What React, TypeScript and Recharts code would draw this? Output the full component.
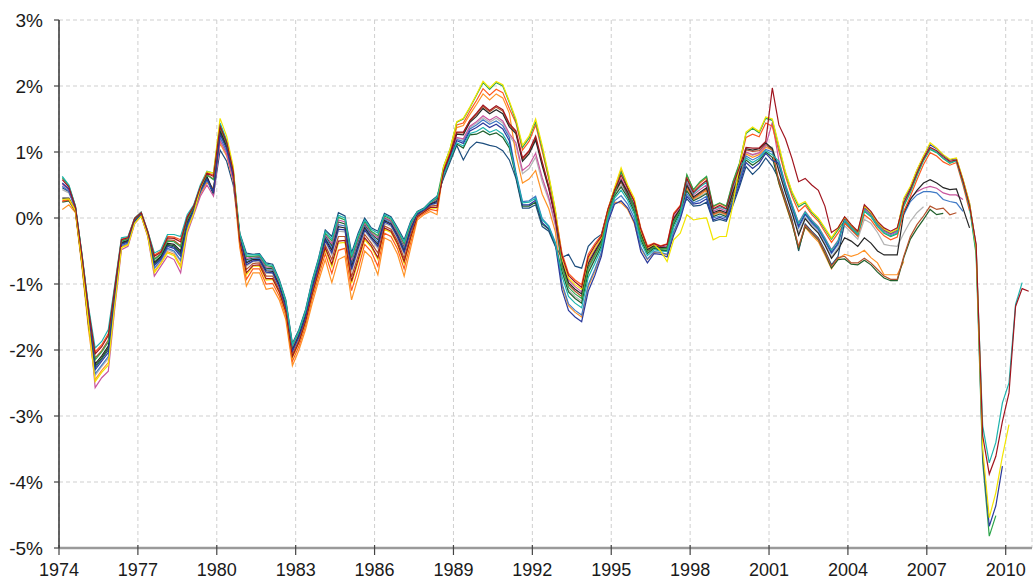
import React from 'react';
import { LineChart, Line, XAxis, YAxis, CartesianGrid } from 'recharts';

// Quarterly estimates, first value = 1974Q1 (plotted mid-quarter). Values in %.
const FIRST_QUARTER = 1974.125;
const yearTicks = [1974, 1977, 1980, 1983, 1986, 1989, 1992, 1995, 1998, 2001, 2004, 2007, 2010];
const pctTicks = [-5, -4, -3, -2, -1, 0, 1, 2, 3];

const darkred = [
  0.58, 0.47, 0.17, -0.57, -1.39,
  -2.06, -1.95, -1.78, -1.05, -0.33, -0.30, -0.01, 0.08, -0.21, -0.58, -0.52, -0.30, -0.31, -0.36, 0.01, 0.18, 0.47, 0.68, 0.63,
  1.39, 1.15, 0.71,
  -0.36, -0.83, -0.72, -0.71, -0.92, -0.92, -1.12, -1.42, -2.10, -1.88, -1.57, -1.16, -0.81, -0.45, -0.70, -0.35, -0.34, -0.96, -0.63, -0.30, -0.42, -0.60, -0.15, -0.20, -0.39, -0.66, -0.29, 0.02, 0.09, 0.16, 0.16,
  0.71, 0.97, 1.30, 1.30, 1.48, 1.59, 1.71, 1.63, 1.70, 1.64, 1.43,
  1.32, 0.91, 1.02, 1.24, 0.85,
  0.48, 0.02,
  -0.57, -0.87, -0.97, -1.05, -0.59, -0.42, -0.28, 0.13, 0.42, 0.65, 0.45, 0.25, -0.17, -0.44, -0.39, -0.43, -0.40, 0.05, 0.18,
  0.60, 0.39, 0.49, 0.57, 0.14, 0.19, 0.14, 0.49, 0.77,
  1.07, 1.06, 1.06, 1.16, 1.97,
  1.41, 1.20, 0.90, 0.55, 0.60, 0.50, 0.42, 0.18, -0.22, -0.15,
  0.02, -0.10, -0.20, 0.20, 0.10, -0.05, -0.15, -0.20, -0.15, 0.23, 0.43, 0.68, 0.90, 1.07, 1.02, 0.93, 0.86, 0.88, 0.56, 0.19, -0.40,
  -3.30, -3.88, -3.61, -3.08, -2.65, -1.34, -1.07, -1.11,
];

const teal = [
  0.63, 0.50, 0.18, -0.55, -1.35,
  -1.97, -1.87, -1.69, -1.00, -0.30, -0.28, 0.00, 0.09, -0.20, -0.53, -0.48, -0.25, -0.25, -0.28, 0.05, 0.20, 0.50, 0.71, 0.68,
  1.44, 1.18, 0.74,
  -0.24, -0.56, -0.56, -0.55, -0.70, -0.72, -0.95, -1.26, -1.92, -1.71, -1.41, -0.97, -0.62, -0.20, -0.32, 0.04, 0.00, -0.57, -0.26, -0.03, -0.17, -0.23, 0.05, 0.00, -0.17, -0.36, -0.07, 0.09, 0.14, 0.24, 0.32,
  0.65, 0.90, 1.14, 1.09, 1.28, 1.31, 1.37, 1.30, 1.34, 1.27, 1.10,
  0.67, 0.23, 0.24, 0.30, -0.03,
  -0.13, -0.39,
  -0.88, -1.19, -1.29, -1.36, -0.90, -0.69, -0.46, 0.01, 0.30, 0.42, 0.27, 0.06, -0.37, -0.57, -0.48, -0.50, -0.51, -0.14, 0.06,
  0.58, 0.37, 0.47, 0.54, 0.13, 0.17, 0.13, 0.47, 0.75,
  0.91, 0.84, 0.90, 1.02, 0.96,
  0.86, 0.50, 0.20, -0.08, 0.09, -0.04, -0.14, -0.31, -0.49, -0.35,
  -0.04, -0.15, -0.25, 0.11, 0.03, -0.12, -0.22, -0.27, -0.23, 0.20, 0.40, 0.66, 0.88, 1.05, 1.00, 0.91, 0.84, 0.87, 0.54, 0.17, -0.50,
  -3.15, -3.71, -3.40, -2.80, -2.50, -1.31, -0.98,
];

const yellow = [
  0.28, 0.29, 0.11, -0.69, -1.60,
  -2.48, -2.34, -2.23, -1.30, -0.45, -0.41, -0.08, 0.03, -0.27, -0.83, -0.69, -0.53, -0.57, -0.75, -0.19, 0.07, 0.45, 0.70, 0.68,
  1.51, 1.24, 0.78,
  -0.37, -0.86, -0.73, -0.73, -0.94, -0.93, -1.13, -1.44, -2.12, -1.89, -1.59, -1.18, -0.83, -0.47, -0.74, -0.38, -0.37, -0.99, -0.67, -0.33, -0.44, -0.63, -0.17, -0.22, -0.41, -0.69, -0.31, 0.02, 0.09, 0.15, 0.15,
  0.78, 1.05, 1.46, 1.51, 1.68, 1.87, 2.07, 1.97, 2.07, 2.02, 1.77,
  1.50, 1.10, 1.24, 1.50, 1.10,
  0.65, 0.13,
  -0.60, -0.91, -1.01, -1.08, -0.62, -0.45, -0.30, 0.12, 0.46, 0.76, 0.50, 0.30, -0.19, -0.45, -0.40, -0.50, -0.66, -0.33, -0.23,
  0.05, -0.03, -0.01, 0.00, -0.33, -0.28, -0.28, 0.20, 0.80,
  1.30, 1.38, 1.31, 1.53, 1.50,
  1.10, 0.70, 0.40, 0.20, 0.25, 0.10, 0.00, -0.15, -0.30, -0.15,
  0.01, -0.11, -0.21, 0.18, 0.08, -0.07, -0.17, -0.22, -0.17, 0.30, 0.48, 0.73, 0.94, 1.14, 1.06, 0.96, 0.89, 0.91, 0.59, 0.23, -0.45,
  -3.50, -4.54, -4.16, -3.61, -3.13,
];

const blue = [
  0.53, 0.44, 0.16, -0.59, -1.42,
  -2.30, -2.17, -2.04, -1.19, -0.40, -0.36, -0.05, 0.05, -0.25, -0.72, -0.62, -0.43, -0.46, -0.58, -0.10, 0.12, 0.41, 0.59, 0.40,
  1.27, 1.05, 0.64,
  -0.31, -0.71, -0.65, -0.64, -0.82, -0.83, -1.04, -1.35, -2.02, -1.80, -1.50, -1.07, -0.72, -0.34, -0.53, -0.17, -0.18, -0.78, -0.46, -0.18, -0.31, -0.43, -0.06, -0.11, -0.29, -0.52, -0.19, 0.05, 0.12, 0.20, 0.23,
  0.66, 0.92, 1.17, 1.13, 1.32, 1.37, 1.44, 1.37, 1.42, 1.35, 1.17,
  0.65, 0.20, 0.20, 0.27, -0.07,
  -0.16, -0.40,
  -1.09, -1.40, -1.50, -1.57, -1.11, -0.87, -0.58, -0.07, 0.21, 0.26, 0.15, -0.06, -0.51, -0.68, -0.54, -0.55, -0.59, -0.26, -0.02,
  0.33, 0.21, 0.23, 0.29, -0.03, 0.01, -0.03, 0.23, 0.51,
  0.84, 0.75, 0.83, 0.98, 0.87,
  0.83, 0.48, 0.18, -0.12, 0.07, -0.06, -0.16, -0.33, -0.52, -0.38,
  0.00, -0.12, -0.22, 0.17, 0.07, -0.08, -0.18, -0.23, -0.18, 0.28, 0.46, 0.72, 0.93, 1.11, 1.05, 0.95, 0.88, 0.90, 0.58, 0.22, -0.42,
  -3.60, -4.67, -4.36, -3.76,
];

const green = [
  0.61, 0.49, 0.18, -0.56, -1.37,
  -2.15, -2.03, -1.88, -1.10, -0.35, -0.32, -0.03, 0.07, -0.22, -0.63, -0.55, -0.35, -0.36, -0.44, -0.03, 0.16, 0.45, 0.65, 0.58,
  1.37, 1.13, 0.70,
  -0.25, -0.58, -0.58, -0.57, -0.72, -0.74, -0.96, -1.27, -1.93, -1.72, -1.42, -0.99, -0.64, -0.23, -0.35, 0.01, -0.03, -0.60, -0.30, -0.05, -0.20, -0.27, 0.03, -0.02, -0.19, -0.39, -0.09, 0.09, 0.14, 0.24, 0.30,
  0.78, 1.05, 1.45, 1.50, 1.67, 1.86, 2.05, 1.95, 2.05, 2.00, 1.75,
  1.47, 1.07, 1.21, 1.46, 1.06,
  0.62, 0.11,
  -0.74, -1.05, -1.15, -1.22, -0.76, -0.57, -0.38, 0.06, 0.35, 0.70, 0.45, 0.15, -0.28, -0.51, -0.44, -0.47, -0.46, -0.05, 0.11,
  0.66, 0.43, 0.55, 0.63, 0.18, 0.23, 0.18, 0.55, 0.83,
  1.28, 1.36, 1.29, 1.51, 1.48,
  1.07, 0.68, 0.38, 0.17, 0.23, 0.08, -0.02, -0.17, -0.32, -0.18,
  -0.04, -0.15, -0.25, 0.10, 0.02, -0.13, -0.23, -0.28, -0.24, 0.18, 0.39, 0.64, 0.87, 1.04, 0.99, 0.90, 0.83, 0.87, 0.53, 0.16, -0.55,
  -3.70, -4.82, -4.51,
];

const redorange = [
  0.26, 0.28, 0.12, -0.68, -1.58,
  -2.03, -1.92, -1.75, -1.03, -0.32, -0.29, 0.00, 0.09, -0.20, -0.56, -0.50, -0.28, -0.29, -0.33, 0.02, 0.19, 0.48, 0.69, 0.65,
  1.41, 1.16, 0.72,
  -0.41, -0.93, -0.77, -0.77, -1.00, -0.99, -1.18, -1.48, -2.17, -1.94, -1.63, -1.23, -0.88, -0.54, -0.84, -0.49, -0.46, -1.10, -0.77, -0.40, -0.51, -0.73, -0.23, -0.28, -0.47, -0.77, -0.37, 0.00, 0.07, 0.13, 0.11,
  0.76, 1.03, 1.41, 1.44, 1.62, 1.78, 1.96, 1.86, 1.95, 1.90, 1.66,
  1.44, 1.03, 1.16, 1.41, 1.01,
  0.59, 0.09,
  -0.53, -0.84, -0.94, -1.01, -0.55, -0.39, -0.26, 0.14, 0.44, 0.72, 0.47, 0.27, -0.15, -0.42, -0.38, -0.42, -0.39, 0.07, 0.19,
  0.64, 0.42, 0.53, 0.61, 0.17, 0.22, 0.17, 0.53, 0.81,
  1.22, 1.27, 1.23, 1.44, 1.39,
  1.01, 0.63, 0.33, 0.10, 0.19, 0.05, -0.05, -0.21, -0.37, -0.23,
  -0.08, -0.18, -0.28, 0.05, -0.03, -0.17, -0.27, -0.33, -0.29, 0.10, 0.33, 0.58, 0.81, 0.99, 0.94, 0.85, 0.80, 0.84, 0.50, 0.11,
];

const black = [
  0.30, 0.30, 0.12, -0.67, -1.57,
  -2.21, -2.09, -1.94, -1.14, -0.37, -0.34, -0.04, 0.06, -0.23, -0.67, -0.58, -0.38, -0.40, -0.50, -0.06, 0.14, 0.43, 0.63, 0.40,
  1.32, 1.09, 0.67,
  -0.30, -0.68, -0.63, -0.63, -0.80, -0.81, -1.02, -1.33, -2.00, -1.78, -1.48, -1.06, -0.71, -0.32, -0.49, -0.13, -0.15, -0.74, -0.43, -0.15, -0.29, -0.40, -0.04, -0.09, -0.27, -0.50, -0.17, 0.06, 0.12, 0.21, 0.25,
  0.70, 0.96, 1.27, 1.26, 1.45, 1.54, 1.66, 1.58, 1.64, 1.58, 1.38,
  1.28, 0.86, 0.97, 1.18, 0.79,
  0.44, -0.01,
  -0.67, -0.98, -1.08, -1.15, -0.69, -0.51, -0.34, 0.09, 0.38, 0.57, 0.39, 0.19, -0.24, -0.48, -0.42, -0.45, -0.44, -0.01, 0.14,
  0.50, 0.32, 0.39, 0.46, 0.08, 0.12, 0.08, 0.39, 0.67,
  1.05, 1.03, 1.05, 1.14, 1.05,
  0.71, 0.38, 0.08, -0.26, -0.01, -0.13, -0.23, -0.41, -0.61, -0.48,
  -0.30, -0.35, -0.43, -0.30, -0.38, -0.50, -0.56, -0.56, -0.56, 0.08, 0.28, 0.42, 0.53, 0.58, 0.53, 0.46, 0.43, 0.44, 0.15, -0.15,
];

const pink = [
  0.51, 0.43, 0.16, -0.60, -1.44,
  -2.57, -2.42, -2.32, -1.35, -0.48, -0.43, -0.09, 0.03, -0.28, -0.88, -0.73, -0.58, -0.63, -0.83, -0.23, 0.05, 0.33, 0.50, 0.33,
  1.17, 0.97, 0.58,
  -0.26, -0.61, -0.59, -0.58, -0.74, -0.75, -0.98, -1.29, -1.95, -1.74, -1.44, -1.00, -0.65, -0.25, -0.39, -0.03, -0.06, -0.64, -0.33, -0.08, -0.22, -0.30, 0.01, -0.04, -0.21, -0.41, -0.11, 0.08, 0.13, 0.23, 0.29,
  0.68, 0.94, 1.22, 1.20, 1.39, 1.46, 1.55, 1.48, 1.54, 1.47, 1.28,
  1.14, 0.72, 0.80, 0.98, 0.61,
  0.31, -0.09,
  -0.64, -0.94, -1.04, -1.12, -0.66, -0.48, -0.32, 0.10, 0.40, 0.60, 0.41, 0.21, -0.21, -0.47, -0.41, -0.44, -0.42, 0.01, 0.15,
  0.54, 0.35, 0.43, 0.50, 0.10, 0.15, 0.10, 0.43, 0.71,
  1.00, 0.96, 0.99, 1.10, 1.45,
  0.87, 0.51, 0.21, -0.07, 0.10, -0.03, -0.13, -0.30, -0.48, -0.34,
  -0.02, -0.14, -0.24, 0.13, 0.05, -0.10, -0.20, -0.25, -0.21, 0.10, 0.30, 0.40, 0.45, 0.48, 0.45, 0.38, 0.35, 0.35, 0.28,
];

const midblue = [
  0.48, 0.41, 0.15, -0.61, -1.46,
  -2.36, -2.23, -2.10, -1.23, -0.42, -0.38, -0.06, 0.05, -0.25, -0.76, -0.64, -0.46, -0.50, -0.64, -0.13, 0.10, 0.39, 0.57, 0.40,
  1.22, 1.01, 0.61,
  -0.29, -0.66, -0.62, -0.61, -0.78, -0.79, -1.01, -1.32, -1.99, -1.77, -1.47, -1.04, -0.69, -0.29, -0.46, -0.10, -0.12, -0.71, -0.40, -0.13, -0.26, -0.37, -0.02, -0.07, -0.25, -0.47, -0.15, 0.07, 0.13, 0.21, 0.26,
  0.67, 0.93, 1.19, 1.16, 1.35, 1.41, 1.49, 1.42, 1.47, 1.40, 1.22,
  0.69, 0.25, 0.26, 0.33, -0.01,
  -0.12, -0.37,
  -0.99, -1.30, -1.40, -1.47, -1.01, -0.78, -0.52, -0.03, 0.26, 0.34, 0.21, 0.00, -0.44, -0.62, -0.51, -0.52, -0.55, -0.20, 0.02,
  0.37, 0.23, 0.27, 0.33, 0.00, 0.03, 0.00, 0.27, 0.55,
  0.94, 0.88, 0.93, 1.04, 1.00,
  0.80, 0.45, 0.15, -0.15, 0.05, -0.08, -0.18, -0.35, -0.54, -0.40,
  -0.01, -0.13, -0.23, 0.15, 0.06, -0.09, -0.19, -0.24, -0.20, 0.05, 0.25, 0.35, 0.40, 0.40, 0.38, 0.28, 0.25, 0.23, 0.10,
];

const brown = [
  0.25, 0.27, 0.10, -0.70, -1.62,
  -2.12, -2.01, -1.85, -1.09, -0.34, -0.32, -0.02, 0.07, -0.22, -0.62, -0.54, -0.33, -0.34, -0.42, -0.02, 0.17, 0.46, 0.66, 0.59,
  1.34, 1.11, 0.68,
  -0.34, -0.78, -0.69, -0.68, -0.88, -0.88, -1.09, -1.39, -2.07, -1.85, -1.54, -1.13, -0.78, -0.41, -0.63, -0.28, -0.28, -0.89, -0.57, -0.25, -0.38, -0.53, -0.12, -0.17, -0.35, -0.61, -0.25, 0.04, 0.10, 0.18, 0.19,
  0.71, 0.97, 1.29, 1.29, 1.47, 1.57, 1.69, 1.61, 1.68, 1.62, 1.41,
  1.30, 0.89, 1.00, 1.21, 0.83,
  0.46, 0.01,
  -0.71, -1.01, -1.11, -1.19, -0.73, -0.54, -0.36, 0.08, 0.37, 0.55, 0.37, 0.17, -0.26, -0.50, -0.43, -0.46, -0.45, -0.03, 0.13,
  0.48, 0.30, 0.37, 0.44, 0.06, 0.10, 0.06, 0.37, 0.65,
  1.03, 1.01, 1.02, 1.12, 1.02,
  0.56, 0.25, -0.05, -0.43, -0.11, -0.22, -0.32, -0.51, -0.73, -0.60,
  -0.58, -0.68, -0.68, -0.61, -0.68, -0.78, -0.88, -0.93, -0.93, -0.58, -0.28, -0.10, 0.03, 0.18, 0.13, 0.15, 0.05, 0.08,
];

const darkgreen = [
  0.24, 0.26, 0.10, -0.71, -1.63,
  -2.24, -2.12, -1.97, -1.16, -0.38, -0.35, -0.05, 0.06, -0.24, -0.69, -0.59, -0.40, -0.42, -0.53, -0.08, 0.13, 0.42, 0.62, 0.38,
  1.29, 1.07, 0.65,
  -0.27, -0.63, -0.61, -0.60, -0.76, -0.77, -0.99, -1.30, -1.97, -1.75, -1.45, -1.02, -0.67, -0.27, -0.42, -0.06, -0.09, -0.67, -0.36, -0.10, -0.24, -0.33, 0.00, -0.05, -0.23, -0.44, -0.13, 0.07, 0.13, 0.22, 0.27,
  0.64, 0.89, 1.12, 1.06, 1.26, 1.27, 1.32, 1.26, 1.29, 1.22, 1.06,
  0.63, 0.18, 0.18, 0.24, -0.09,
  -0.17, -0.41,
  -0.81, -1.12, -1.22, -1.29, -0.83, -0.63, -0.42, 0.04, 0.33, 0.47, 0.31, 0.10, -0.33, -0.54, -0.46, -0.49, -0.49, -0.10, 0.09,
  0.41, 0.26, 0.31, 0.37, 0.02, 0.06, 0.02, 0.31, 0.59,
  0.88, 0.80, 0.87, 1.00, 0.92,
  0.53, 0.23, -0.08, -0.47, -0.13, -0.23, -0.33, -0.53, -0.76, -0.63,
  -0.62, -0.70, -0.71, -0.64, -0.71, -0.82, -0.91, -0.95, -0.95, -0.60, -0.32, -0.16, -0.02, 0.13, 0.05, 0.07,
];

const orange = [
  0.13, 0.20, 0.08, -0.75, -1.70,
  -2.45, -2.31, -2.19, -1.28, -0.44, -0.40, -0.07, 0.04, -0.27, -0.81, -0.68, -0.51, -0.55, -0.72, -0.17, 0.08, 0.36, 0.54, 0.45,
  1.13, 0.94, 0.56,
  -0.45, -1.03, -0.83, -0.83, -1.08, -1.06, -1.24, -1.54, -2.24, -2.00, -1.69, -1.30, -0.95, -0.63, -0.98, -0.63, -0.58, -1.24, -0.90, -0.50, -0.60, -0.86, -0.30, -0.35, -0.55, -0.88, -0.45, -0.03, 0.05, 0.10, 0.05,
  0.74, 1.01, 1.37, 1.40, 1.57, 1.72, 1.88, 1.79, 1.88, 1.82, 1.59,
  0.96, 0.53, 0.59, 0.72, 0.36,
  0.14, -0.21,
  -1.02, -1.33, -1.43, -1.50, -1.04, -0.81, -0.54, -0.04, 0.24, 0.23, 0.13, -0.08, -0.46, -0.63, -0.52, -0.53, -0.56, -0.22, 0.01,
  0.46, 0.29, 0.35, 0.42, 0.05, 0.09, 0.05, 0.35, 0.63,
  0.97, 0.92, 0.96, 1.07, 1.04,
  0.52, 0.21, -0.09, -0.45, -0.14, -0.26, -0.36, -0.56, -0.77, -0.62,
  -0.55, -0.58, -0.55, -0.49, -0.60, -0.68, -0.86, -0.86, -0.86, -0.66,
];

const grey = [
  0.43, 0.38, 0.14, -0.63, -1.49,
  -2.39, -2.25, -2.13, -1.24, -0.43, -0.39, -0.07, 0.04, -0.26, -0.77, -0.65, -0.48, -0.52, -0.66, -0.15, 0.09, 0.38, 0.56, 0.44,
  1.20, 0.99, 0.60,
  -0.32, -0.73, -0.66, -0.66, -0.84, -0.84, -1.05, -1.36, -2.04, -1.81, -1.51, -1.09, -0.74, -0.36, -0.56, -0.20, -0.21, -0.81, -0.50, -0.20, -0.33, -0.46, -0.08, -0.13, -0.31, -0.55, -0.21, 0.05, 0.11, 0.19, 0.22,
  0.68, 0.93, 1.21, 1.19, 1.37, 1.44, 1.52, 1.45, 1.51, 1.44, 1.25,
  1.10, 0.67, 0.75, 0.92, 0.55,
  0.27, -0.12,
  -0.78, -1.09, -1.19, -1.26, -0.80, -0.60, -0.40, 0.05, 0.34, 0.50, 0.33, 0.13, -0.31, -0.53, -0.45, -0.48, -0.48, -0.08, 0.10,
  0.43, 0.28, 0.33, 0.39, 0.04, 0.08, 0.04, 0.33, 0.61,
  0.99, 0.95, 0.98, 1.08, 1.07,
  0.74, 0.40, 0.10, -0.22, 0.01, -0.11, -0.21, -0.39, -0.59, -0.45,
  -0.12, -0.22, -0.32, -0.02, -0.08, -0.22, -0.40, -0.42, -0.43, -0.23, -0.05, 0.08, 0.17,
];

const navy = [
  0.46, 0.40, 0.15, -0.62, -1.47,
  -2.27, -2.14, -2.00, -1.17, -0.39, -0.36, -0.05, 0.05, -0.25, -0.70, -0.60, -0.41, -0.44, -0.55, -0.09, 0.12, 0.41, 0.58, 0.35,
  1.03, 0.86, 0.50,
  -0.23, -0.53, -0.55, -0.54, -0.68, -0.70, -0.93, -1.24, -1.90, -1.69, -1.39, -0.95, -0.60, -0.18, -0.28, 0.08, 0.03, -0.53, -0.23, 0.00, -0.15, -0.20, 0.07, 0.02, -0.15, -0.33, -0.05, 0.10, 0.15, 0.25, 0.33,
  0.60, 0.85, 1.10, 0.88, 1.06, 1.15, 1.13, 1.10, 1.08, 1.02, 0.88,
  0.60, 0.15, 0.15, 0.20, -0.13,
  -0.20, -0.43,
  -0.60, -0.55, -0.73, -0.76, -0.43, -0.32, -0.25, 0.12, 0.40, 0.55, 0.35, 0.15, -0.25, -0.50, -0.45, -0.47, -0.45, -0.05, 0.12,
  0.29, 0.18, 0.19, 0.24, -0.05, -0.02, -0.05, 0.19, 0.47,
  0.78, 0.66, 0.76, 0.91, 0.78,
  0.59, 0.28, -0.02, -0.50, -0.09, -0.20, -0.30, -0.49, -0.71, -0.58,
  -0.06, -0.17, -0.27,
];

const seriesDefs = [
  { key: 'grey', color: '#b4b4b4', values: grey },
  { key: 'navy', color: '#1d4e7e', values: navy },
  { key: 'orange', color: '#ff9326', values: orange },
  { key: 'darkgreen', color: '#1f5f2b', values: darkgreen },
  { key: 'brown', color: '#b5522b', values: brown },
  { key: 'midblue', color: '#3f79c6', values: midblue },
  { key: 'pink', color: '#c9559e', values: pink },
  { key: 'black', color: '#262626', values: black },
  { key: 'redorange', color: '#ff5a1e', values: redorange },
  { key: 'green', color: '#2ca54a', values: green },
  { key: 'blue', color: '#2b3a9c', values: blue },
  { key: 'teal', color: '#1db3ad', values: teal },
  { key: 'yellow', color: '#f2e500', values: yellow },
  { key: 'darkred', color: '#a0141e', values: darkred },
];

const nQuarters = Math.max(...seriesDefs.map((s) => s.values.length));
const rows = Array.from({ length: nQuarters }, (_, q) => {
  const row: Record<string, number> = { t: FIRST_QUARTER + q * 0.25 };
  seriesDefs.forEach((s) => {
    if (q < s.values.length) row[s.key] = s.values[q];
  });
  return row;
});

const FONT = '"Liberation Sans", Arial, Helvetica, sans-serif';

const XTick = (props: any) => {
  const { x, y, payload } = props;
  return (
    <g>
      <line x1={x} x2={x} y1={y - 3} y2={y + 7} stroke="#444" strokeWidth={1.2} />
      <text x={x} y={y + 28} textAnchor="middle" fontSize={18} fontFamily={FONT} fill="#1a1a1a">
        {payload.value}
      </text>
    </g>
  );
};

const YTick = (props: any) => {
  const { x, y, payload } = props;
  return (
    <g>
      <line x1={x - 5} x2={x} y1={y} y2={y} stroke="#444" strokeWidth={1.2} />
      <text x={x - 16} y={y + 7} textAnchor="end" fontSize={19} fontFamily={FONT} fill="#1a1a1a">
        {`${payload.value}%`}
      </text>
    </g>
  );
};

export default function App() {
  return (
    <div style={{ position: 'absolute', left: 0, top: 0, width: 1033, height: 581, background: '#fff' }}>
      <LineChart width={1033} height={581} data={rows} margin={{ top: 20, right: 1, bottom: 0, left: 0 }}>
        <CartesianGrid stroke="#cfcfcf" strokeDasharray="4 3" strokeWidth={1} />
        <XAxis
          dataKey="t"
          type="number"
          domain={[1974, 2011]}
          ticks={yearTicks}
          allowDataOverflow
          height={33}
          tickSize={0}
          tickMargin={0}
          tickLine={false}
          axisLine={{ stroke: '#9a9a9a', strokeWidth: 2.5 }}
          tick={<XTick />}
          interval={0}
        />
        <YAxis
          type="number"
          domain={[-5, 3]}
          ticks={pctTicks}
          allowDataOverflow
          width={59}
          tickSize={0}
          tickMargin={0}
          tickLine={false}
          axisLine={{ stroke: '#333', strokeWidth: 1.5 }}
          tick={<YTick />}
          interval={0}
        />
        {seriesDefs.map((s) => (
          <Line
            key={s.key}
            dataKey={s.key}
            stroke={s.color}
            strokeWidth={1.2}
            dot={false}
            activeDot={false}
            isAnimationActive={false}
            connectNulls={false}
            type="linear"
          />
        ))}
      </LineChart>
    </div>
  );
}
